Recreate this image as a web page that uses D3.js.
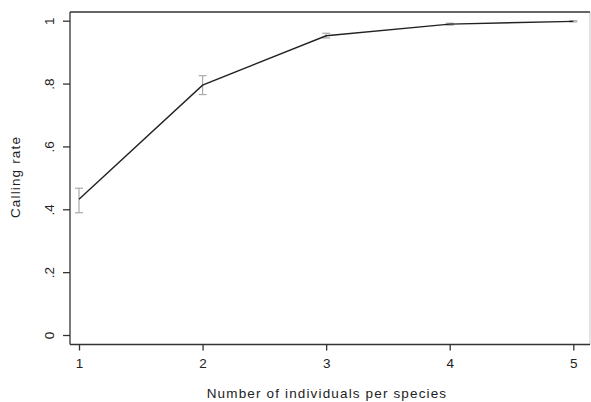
<!DOCTYPE html>
<html>
<head>
<meta charset="utf-8">
<script src="https://cdn.jsdelivr.net/npm/d3@7"></script>
<style>
  html, body { margin: 0; padding: 0; background: #fff; }
  svg { display: block; font-family: "Liberation Sans", Arial, sans-serif; }
</style>
</head>
<body>
<script>
const individuals = [1, 2, 3, 4, 5];
const callingRate = [0.432, 0.795, 0.952, 0.989, 0.998];
const ciLower = [0.389, 0.765, 0.945, 0.986, 0.996];
const ciUpper = [0.467, 0.825, 0.960, 0.992, 1.000];
const yTicks = [0, 0.2, 0.4, 0.6, 0.8, 1];
const yTickLabels = ["0", ".2", ".4", ".6", ".8", "1"];
const xTicks = [1, 2, 3, 4, 5];

const W = 591, H = 402;
const FS = 13.5;
const svg = d3.select("body").append("svg").attr("width", W).attr("height", H);

const x = d3.scaleLinear().domain([1, 5]).range([79, 573.3]);
const y = d3.scaleLinear().domain([0, 1]).range([335, 20.7]);

const frame = { left: 70, top: 12, right: 590, bottom: 344.5 };

// frame
svg.append("line").attr("x1", frame.right).attr("x2", frame.right)
  .attr("y1", frame.top).attr("y2", frame.bottom)
  .attr("stroke", "#c8c8c8").attr("stroke-width", 1);
svg.append("line").attr("x1", frame.left).attr("x2", frame.right)
  .attr("y1", frame.top).attr("y2", frame.top)
  .attr("stroke", "#333").attr("stroke-width", 1.3);

// Y axis
const yAxis = d3.axisLeft(y).tickValues(yTicks)
  .tickFormat((d, i) => yTickLabels[i]).tickSizeOuter(0).tickSize(7).tickPadding(0);
const gy = svg.append("g").attr("transform", `translate(${frame.left},0)`).call(yAxis);
gy.select(".domain").remove();
gy.selectAll(".tick line").attr("stroke", "#333").attr("stroke-width", 1.3);
gy.selectAll(".tick text")
  .attr("x", 0).attr("dy", null)
  .attr("text-anchor", "middle")
  .attr("transform", "translate(-21,0) rotate(-90)")
  .attr("dominant-baseline", "central")
  .attr("font-size", FS).attr("fill", "#222");

// X axis
const xAxis = d3.axisBottom(x).tickValues(xTicks).tickFormat(d3.format("d"))
  .tickSizeOuter(0).tickSize(6).tickPadding(8);
const gx = svg.append("g").attr("transform", `translate(0,${frame.bottom})`).call(xAxis);
gx.select(".domain").remove();
gx.selectAll(".tick line").attr("stroke", "#333").attr("stroke-width", 1.3);
gx.selectAll(".tick text").attr("font-size", FS).attr("fill", "#222");

// axis lines (left & bottom)
svg.append("line").attr("x1", frame.left).attr("x2", frame.left)
  .attr("y1", frame.top).attr("y2", frame.bottom)
  .attr("stroke", "#333").attr("stroke-width", 1.3);
svg.append("line").attr("x1", frame.left).attr("x2", frame.right)
  .attr("y1", frame.bottom).attr("y2", frame.bottom)
  .attr("stroke", "#333").attr("stroke-width", 1.3);

// error bars
const data = individuals.map((d, i) => ({ x: d, y: callingRate[i], lo: ciLower[i], hi: ciUpper[i] }));
const eb = svg.append("g").attr("stroke", "#aaa").attr("stroke-width", 1.2).attr("fill", "none");
data.forEach(d => {
  eb.append("line").attr("x1", x(d.x)).attr("x2", x(d.x)).attr("y1", y(d.lo)).attr("y2", y(d.hi));
  eb.append("line").attr("x1", x(d.x) - 4).attr("x2", x(d.x) + 4).attr("y1", y(d.lo)).attr("y2", y(d.lo));
  eb.append("line").attr("x1", x(d.x) - 4).attr("x2", x(d.x) + 4).attr("y1", y(d.hi)).attr("y2", y(d.hi));
});

// line
svg.append("path").datum(data)
  .attr("fill", "none").attr("stroke", "#222").attr("stroke-width", 1.4)
  .attr("d", d3.line().x(d => x(d.x)).y(d => y(d.y)));

// axis titles
svg.append("text").attr("x", 327).attr("y", 397.5)
  .attr("text-anchor", "middle").attr("font-size", FS).attr("fill", "#222")
  .attr("letter-spacing", 1.15)
  .text("Number of individuals per species");
svg.append("text").attr("transform", "translate(15,177) rotate(-90)")
  .attr("text-anchor", "middle").attr("dominant-baseline", "central")
  .attr("font-size", FS).attr("fill", "#222")
  .attr("letter-spacing", 1.15)
  .text("Calling rate");
</script>
</body>
</html>
